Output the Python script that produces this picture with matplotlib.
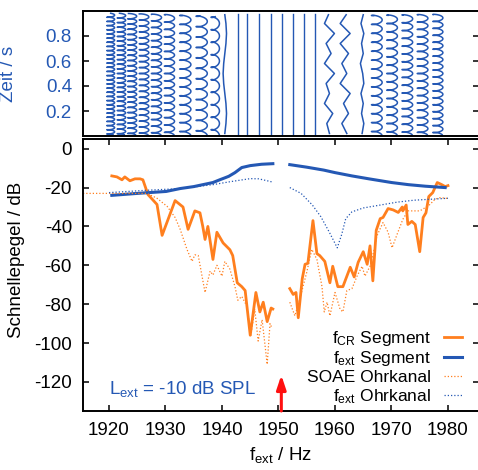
import numpy as np
import matplotlib
matplotlib.use('Agg')
import matplotlib.pyplot as plt

plt.rcParams['font.family'] = ['Liberation Sans', 'DejaVu Sans']
plt.rcParams['mathtext.default'] = 'regular'
plt.rcParams['axes.unicode_minus'] = False

ORANGE = '#ff7f1e'
BLUE = '#2458b4'

# ---------------- lower panel data (f / Hz, level / dB) ----------------
fcr_left_f = [1920.5, 1921.4, 1922.3, 1922.8, 1923.7, 1924.6, 1925.5, 1926.0, 1926.9, 1928.5,
              1929.4, 1931.7, 1933.1, 1934.0, 1935.2, 1936.1, 1936.6, 1937.0, 1937.5, 1938.4,
              1939.1, 1940.2, 1941.4, 1941.9, 1942.7, 1943.5, 1944.1, 1945.0, 1946.0, 1946.7,
              1947.3, 1948.0, 1948.7, 1949.0]
fcr_left_db = [-14, -14.5, -16, -14.5, -16.5, -15.5, -15.5, -16, -23.6, -28.7,
               -44.6, -26.7, -30, -41.5, -32, -33, -40, -46.7, -40, -57,
               -43, -48.5, -52, -55, -69, -71, -73, -96, -74, -84,
               -79, -89, -82, -82.5]

fcr_right_f = [1952.0, 1952.6, 1953.1, 1953.5, 1954.2, 1954.7, 1955.2, 1956.1, 1956.8, 1957.3,
               1958.2, 1959.1, 1959.6, 1960.5, 1961.4, 1962.7, 1963.4, 1964.1, 1965.0, 1965.7,
               1966.2, 1966.7, 1967.3, 1968.0, 1968.5, 1969.4, 1970.3, 1971.2, 1971.9, 1972.0,
               1972.6, 1972.9, 1973.6, 1974.2, 1975.0, 1975.6, 1976.1, 1976.6, 1977.3, 1978.1,
               1978.9, 1979.5, 1980.0]
fcr_right_db = [-72, -75, -74, -87, -67, -59.5, -59, -37, -54, -55,
                -58, -69, -60.5, -71, -71, -61, -66, -58.5, -53, -59.5,
                -50, -68, -42, -36, -35.4, -30.8, -31.5, -32.8, -30, -32,
                -29, -39, -37.4, -39, -53, -35.4, -33, -24.6, -22.6, -17.4,
                -18.5, -19.5, -19]

soae_left_f = [1915.4, 1920.0, 1926.7, 1928.5, 1930.3, 1931.7, 1932.6, 1933.8, 1934.7, 1935.2,
               1935.8, 1937.0, 1937.9, 1938.4, 1939.1, 1940.0, 1940.5, 1941.4, 1942.3, 1942.8,
               1943.5, 1944.4, 1945.1, 1945.8, 1946.4, 1947.1, 1948.0, 1948.5, 1948.8]
soae_left_db = [-23, -23, -23, -25.5, -29.7, -35.4, -41.5, -51.8, -58, -54.6,
                -55, -74, -63, -65, -60, -65.6, -58, -62, -71, -78,
                -76, -81, -96, -82.6, -99, -88, -111, -90, -92]

soae_right_f = [1952.0, 1952.9, 1953.8, 1955.0, 1955.9, 1956.8, 1957.7, 1958.1, 1958.6, 1959.1,
                1960.0, 1960.9, 1961.4, 1962.1, 1963.0, 1963.9, 1964.8, 1965.3, 1966.2, 1967.1,
                1967.4, 1968.5, 1969.4, 1970.1, 1971.0, 1972.0, 1972.9, 1973.8, 1975.0, 1975.6,
                1976.8, 1977.7, 1978.6, 1980.0]
soae_right_db = [-79, -86, -77, -63.6, -51.8, -57, -71, -84, -79, -86,
                 -74, -82.6, -84, -73, -72, -65.6, -60.5, -65.6, -60.5, -50,
                 -45, -38, -43, -51, -44, -36.4, -32, -32, -32, -31,
                 -28.7, -26, -25.2, -25.6]

fext_seg_left_f = [1920.5, 1925.0, 1930.1, 1932.6, 1935.0, 1938.4, 1939.6, 1940.5, 1941.2, 1942.3,
                   1943.5, 1945.0, 1947.0, 1949.0]
fext_seg_left_db = [-24, -23, -22, -20.5, -19.5, -17.4, -16.0, -15.0, -14.2, -12.3,
                    -9.7, -8.7, -8.0, -7.7]
fext_seg_right_f = [1952.0, 1955.0, 1958.0, 1960.0, 1963.0, 1966.0, 1970.0, 1973.0, 1976.0, 1979.5]
fext_seg_right_db = [-8.2, -9.5, -11.0, -12.3, -14.0, -15.5, -17.4, -18.5, -19.3, -20.0]

fext_ohr_left_f = [1920.0, 1926.0, 1932.6, 1938.4, 1941.4, 1945.0, 1946.5, 1948.0, 1949.0]
fext_ohr_left_db = [-22.6, -21.5, -20.5, -18.5, -17.0, -15.4, -15.5, -16.5, -17.2]
fext_ohr_right_f = [1952.0, 1954.0, 1956.0, 1957.5, 1959.0, 1960.4, 1961.2, 1961.9, 1963.0, 1965.0,
                    1968.0, 1971.0, 1974.0, 1977.0, 1980.0]
fext_ohr_right_db = [-20, -23, -29, -35, -43, -51, -44, -36, -32.5, -30.5,
                     -29, -27.5, -26.5, -26, -25.5]

arrow_f = 1950.5

# ---------------- upper panel data (traces) ----------------
loop_f = [1920.3, 1922.2, 1924.1, 1926.2, 1928.4, 1930.7, 1933.5, 1936.4, 1938.8,
          1967.4, 1970.1, 1972.8, 1975.5, 1978.2]
loop_beat = [30, 27, 24, 21, 19, 17, 14, 12, 10,
             14, 15, 16, 17, 18]
loop_amp = [0.7, 0.75, 0.8, 0.85, 0.9, 0.9, 1.0, 1.0, 0.75,
            0.95, 0.95, 0.95, 0.95, 0.9]
line_f = [1942.8, 1944.4, 1946.5, 1948.6, 1950.6, 1952.5, 1954.5, 1956.4]
jag_t = [0.97, 0.90, 0.82, 0.74, 0.66, 0.58, 0.50, 0.42, 0.34, 0.26, 0.18, 0.10, 0.02]
jag_f = [1940.5, 1958.9, 1961.8, 1964.8]
jag_off = [
    [0.0, 0.2, 0.3, 0.2, 0.0, -0.2, -0.3, -0.2, 0.0, 0.2, 0.3, 0.2, 0.0],
    [-0.06, -0.76, 1.0, -0.47, 0.41, -0.76, 1.0, -0.47, 0.12, -0.76, 0.7, -0.35, 0.12],
    [0.18, -0.88, 0.88, -0.88, 0.59, -0.59, 0.29, -0.88, 0.88, -0.29, 0.59, -0.59, 0.29],
    [0.2, -0.2, 0.3, -0.1, 0.2, -0.3, 0.1, 0.3, -0.2, 0.2, -0.1, 0.3, 0.0],
]

xticks = [1920, 1930, 1940, 1950, 1960, 1970, 1980]
yticks = [-120, -100, -80, -60, -40, -20, 0]
top_yticks = [0.2, 0.4, 0.6, 0.8]

# ---------------- figure ----------------
W, H = 478, 470
fig = plt.figure(figsize=(W / 100, H / 100), dpi=100)


def rect(l, t, r, b):
    return [l / W, 1 - b / H, (r - l) / W, (b - t) / H]


ax_top = fig.add_axes(rect(83, 11, 478.5, 136))
ax = fig.add_axes(rect(83, 139, 478.5, 411))
XLIM = (1915.4, 1985.4)

# upper panel traces
t = np.linspace(0.005, 0.975, 3000)
for fc, beat, amp in zip(loop_f, loop_beat, loop_amp):
    th = 2 * np.pi * beat * t
    ax_top.plot(fc + amp * np.cos(th), t + 1.3 / (2 * np.pi * beat) * np.sin(th),
                color=BLUE, lw=1.1)
for fc in line_f:
    ax_top.plot([fc, fc], [0.005, 0.975], color=BLUE, lw=1.0)
for fc, offs in zip(jag_f, jag_off):
    ax_top.plot([fc + o for o in offs], jag_t, color=BLUE, lw=1.1)

ax_top.set_xlim(*XLIM)
ax_top.set_ylim(0, 1.0)
ax_top.set_yticks(top_yticks)
ax_top.set_yticklabels(['0.2', '0.4', '0.6', '0.8'])
ax_top.tick_params(axis='x', bottom=False, top=False, labelbottom=False)
ax_top.tick_params(axis='y', direction='in', left=True, right=True, length=4.5, width=1.1,
                   labelsize=13.5, labelcolor=BLUE, pad=8)
ax_top.set_ylabel('Zeit / s', color=BLUE, fontsize=13.5)
ax_top.yaxis.set_label_coords(-0.167, 0.5)

# lower panel
ax.plot(fcr_left_f, fcr_left_db, color=ORANGE, lw=2.0, label='f$_{CR}$ Segment')
ax.plot(fcr_right_f, fcr_right_db, color=ORANGE, lw=2.0)
ax.plot(fext_seg_left_f, fext_seg_left_db, color=BLUE, lw=2.2, label='f$_{ext}$ Segment')
ax.plot(fext_seg_right_f, fext_seg_right_db, color=BLUE, lw=2.2)
ax.plot(soae_left_f, soae_left_db, color=ORANGE, lw=0.9, ls=(0, (1, 1.6)), label='SOAE Ohrkanal')
ax.plot(soae_right_f, soae_right_db, color=ORANGE, lw=0.9, ls=(0, (1, 1.6)))
ax.plot(fext_ohr_left_f, fext_ohr_left_db, color=BLUE, lw=0.9, ls=(0, (1, 1.6)), label='f$_{ext}$ Ohrkanal')
ax.plot(fext_ohr_right_f, fext_ohr_right_db, color=BLUE, lw=0.9, ls=(0, (1, 1.6)))

ax.annotate('', xy=(arrow_f, -116.5), xytext=(arrow_f, -135),
            arrowprops=dict(arrowstyle='-|>,head_length=0.6,head_width=0.2', color='#ff1010',
                            lw=2.2, shrinkA=0, shrinkB=0, mutation_scale=14),
            annotation_clip=False)

ax.text(1920, -126.2, 'L$_{ext}$ = -10 dB SPL', color=BLUE, fontsize=13.5, ha='left', va='baseline')

ax.set_xlim(*XLIM)
ax.set_ylim(-135, 5)
ax.set_xticks(xticks)
ax.set_yticks(yticks)
ax.tick_params(direction='in', top=True, right=True, length=4.5, width=1.1, labelsize=13.5, pad=8)
ax.set_ylabel('Schnellepegel / dB', fontsize=13.5)
ax.yaxis.set_label_coords(-0.147, 0.555)
ax.set_xlabel('f$_{ext}$ / Hz', fontsize=13.5)
ax.xaxis.set_label_coords(0.5, -0.125)

leg = ax.legend(loc='lower right', bbox_to_anchor=(0.988, -0.025), markerfirst=False, frameon=False,
                fontsize=12.5, handlelength=1.0, handletextpad=0.75, labelspacing=0.1,
                borderpad=0.2)

for a in (ax, ax_top):
    for s in a.spines.values():
        s.set_linewidth(1.4)

fig.savefig('out.png', dpi=100)
